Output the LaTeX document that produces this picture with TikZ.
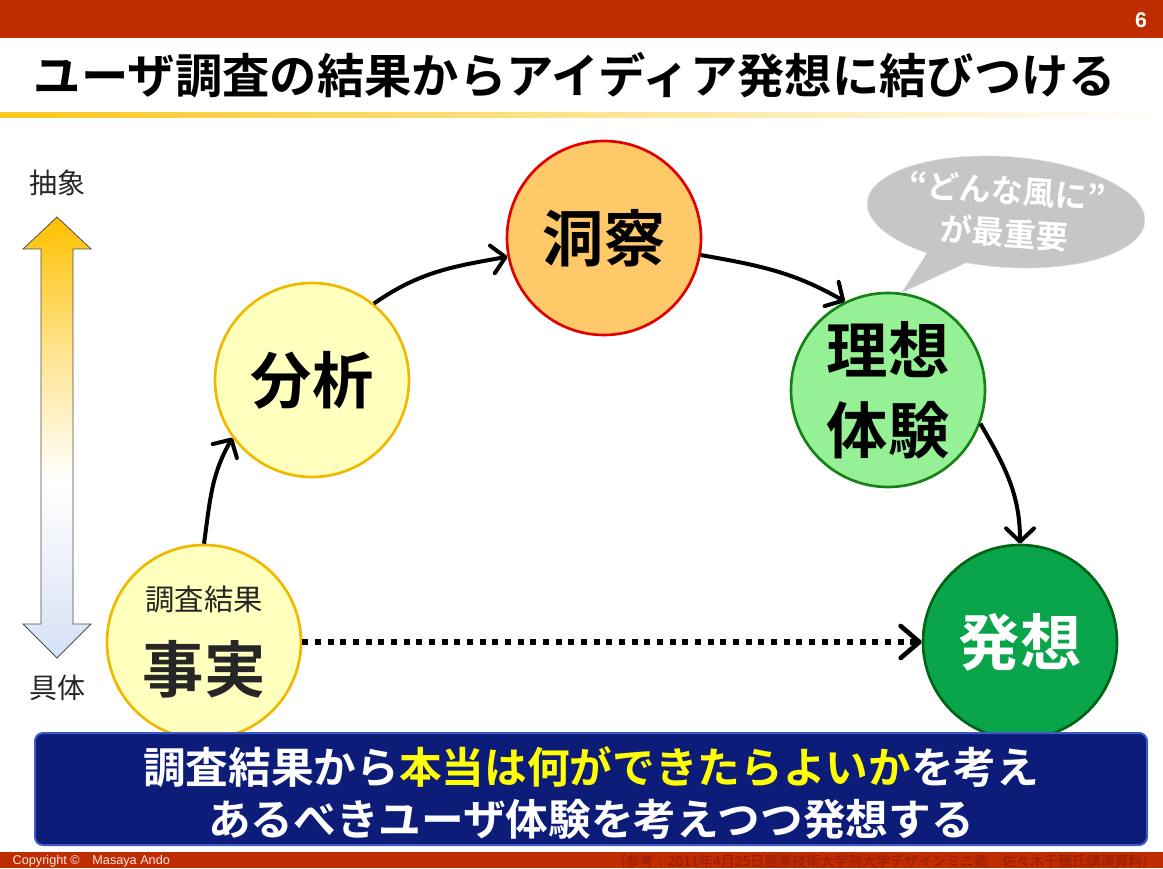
\documentclass[tikz,border=0pt]{standalone}
\usepackage{fontspec}
\setmainfont{Noto Sans CJK JP}[BoldFont={* Bold}]
\newfontfamily\latinfont{Liberation Sans}
\usepackage{xcolor}
\usepackage{tikz}
\usetikzlibrary{shapes,shapes.callouts,arrows.meta,positioning,calc}
\definecolor{barred}{RGB}{190, 44, 0}
\definecolor{footred}{RGB}{150, 30, 0}
\definecolor{titlegold}{RGB}{250, 200, 30}
\definecolor{axisgold}{RGB}{255, 192, 0}
\definecolor{axisblue}{RGB}{214, 224, 245}
\definecolor{factfill}{RGB}{255, 255, 190}
\definecolor{factline}{RGB}{240, 185, 0}
\definecolor{insightfill}{RGB}{255, 200, 105}
\definecolor{insightline}{RGB}{225, 0, 0}
\definecolor{idealfill}{RGB}{150, 240, 150}
\definecolor{idealline}{RGB}{20, 130, 20}
\definecolor{ideafill}{RGB}{10, 165, 75}
\definecolor{idealborder}{RGB}{0, 100, 20}
\definecolor{bubblegray}{RGB}{198, 198, 198}
\definecolor{navyfill}{RGB}{12, 28, 120}
\definecolor{navyline}{RGB}{60, 90, 200}
\definecolor{hiyellow}{RGB}{255, 255, 0}
\pgfdeclareverticalshading{axisshade}{100bp}{color(0bp)=(axisblue); color(25bp)=(axisblue);
    color(45bp)=(white); color(60bp)=(axisgold!45); color(75bp)=(axisgold); color(100bp)=(axisgold)}

\begin{document}
\begin{tikzpicture}[x=0.75pt, y=0.75pt, >={Straight Barb[length=10pt, width=21pt, line width=3pt, round]},
    stage/.style={circle, minimum size=145.5pt, line width=2pt, inner sep=0pt, align=center, font=\bfseries\fontsize{46}{60}\selectfont},
    flow/.style={->, line width=3pt, black},
    axislabel/.style={font=\fontsize{21}{24}\selectfont, text=black!85}]
    \useasboundingbox (0,0) rectangle (1163,868);

    % header and footer
    \fill[barred] (0,830) rectangle (1163,868);
    \node[font=\latinfont\bfseries\fontsize{16}{18}\selectfont, text=white] (pagenum) at (1141,848) {6};
    \node[font=\bfseries\fontsize{35.5}{40}\selectfont] (title) at (575,793) {ユーザ調査の結果からアイディア発想に結びつける};
    \shade[left color=titlegold, right color=white] (0,750) rectangle (1163,755);
    \fill[barred] (0,0) rectangle (1163,16);
    \node[font=\latinfont\fontsize{9.5}{10}\selectfont, text=white!90!barred, anchor=west] (copyright) at (8,7) {Copyright ©\quad Masaya Ando};
    \node[font=\fontsize{10.5}{12}\selectfont, text=footred, anchor=east] (source) at (1161,7) {（参考：2011年4月25日産業技術大学院大学デザインミニ塾　佐々木千穂氏講演資料）};

    % abstract <-> concrete axis
    \shadedraw[shading=axisshade, draw=black!70, line width=0.6pt]
        (57,651) -- (91,619) -- (73,619) -- (73,244) -- (91,244) -- (57,210) -- (23,244) -- (41,244) -- (41,619) -- (23,619) -- cycle;
    \node[axislabel] (abstract) at (57,685) {抽象};
    \node[axislabel] (concrete) at (57,180) {具体};

    % stages
    \node[stage, fill=factfill, draw=factline, text=black!85] (fact) at (204,226)
        {{\mdseries\fontsize{22}{26}\selectfont 調査結果}\\[2pt]事実};
    \node[stage, fill=factfill, draw=factline] (analysis) at (312,488) {分析};
    \node[stage, fill=insightfill, draw=insightline] (insight) at (604,630) {洞察};
    \node[stage, fill=idealfill, draw=idealline] (ideal) at (888,478) {理想\\体験};
    \node[stage, fill=ideafill, draw=idealborder, text=white] (idea) at (1020,226) {発想};

    \draw[flow] (fact.north) to[out=82, in=240] (analysis.216);
    \draw[flow] (analysis.51) to[out=35, in=190] (insight.191);
    \draw[flow] (insight.350) to[out=-10, in=150] (ideal.116);
    \draw[flow] (ideal.340) to[out=-60, in=90] (idea.north);
    \draw[flow, -{Straight Barb[length=14pt, width=24pt, line width=3.5pt, round]}, line width=4.5pt, dash pattern=on 4.5pt off 5pt]
        (fact.east) -- (idea.west);

    % speech bubble
    \node[ellipse callout, callout absolute pointer={(ideal.82)}, callout pointer arc=18,
        fill=bubblegray, draw=black!12, minimum width=196pt, minimum height=83pt, inner sep=0pt,
        align=center, text=white, font=\bfseries\fontsize{24}{32}\selectfont, rotate=-4] (bubble) at (1006,656)
        {“どんな風に”\\が最重要};

    % summary box
    \fill[navyfill, draw=navyline, line width=1.5pt, rounded corners=6pt] (35,23) rectangle (1147,135);
    \node[align=center, text=white, font=\bfseries\fontsize{32}{39}\selectfont] (summary) at (591,75)
        {調査結果から\textcolor{hiyellow}{本当は何ができたらよいか}を考え\\あるべきユーザ体験を考えつつ発想する};
\end{tikzpicture}
\end{document}
